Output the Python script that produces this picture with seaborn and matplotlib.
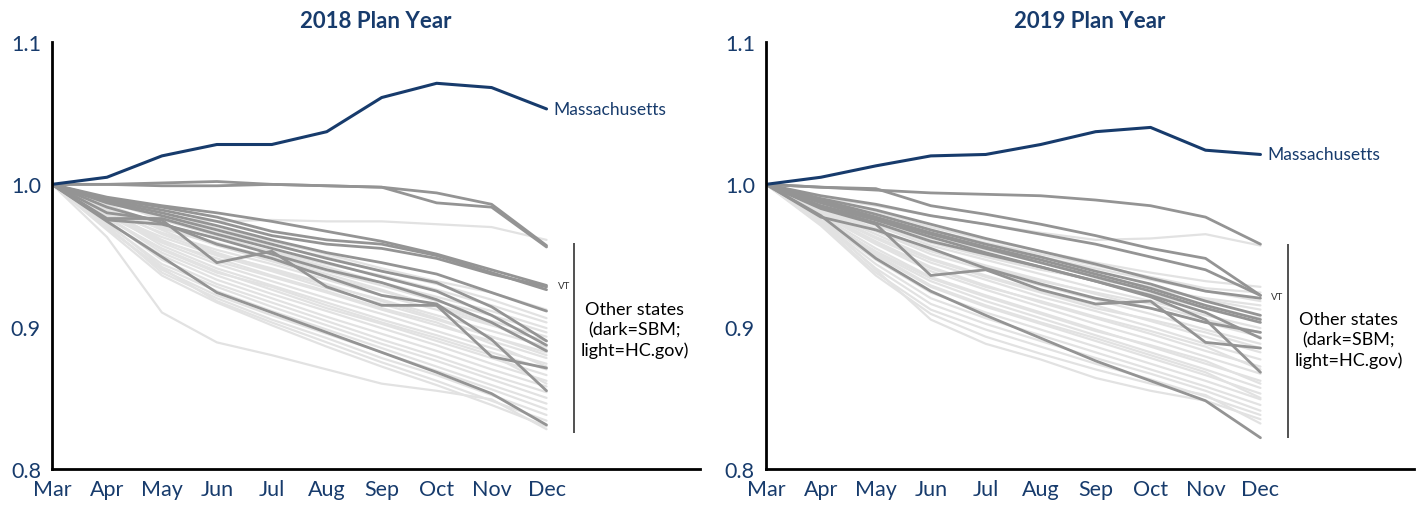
import pandas as pd
import seaborn as sns
import matplotlib.pyplot as plt

# ======================
# data (index relative to March)
# ======================
months = ['Mar', 'Apr', 'May', 'Jun', 'Jul', 'Aug', 'Sep', 'Oct', 'Nov', 'Dec']

ma_2018 = [1.0, 1.005, 1.020, 1.028, 1.028, 1.037, 1.061, 1.071, 1.068, 1.053]
ma_2019 = [1.0, 1.005, 1.013, 1.020, 1.021, 1.028, 1.037, 1.040, 1.024, 1.021]

# state-based marketplaces (dark)
sbm_2018 = [
    [1.0, 1.000, 1.001, 1.002, 1.000, 0.999, 0.998, 0.994, 0.986, 0.957],
    [1.0, 1.000, 0.999, 0.999, 1.000, 0.999, 0.998, 0.987, 0.984, 0.956],
    [1.0, 0.991, 0.985, 0.980, 0.974, 0.967, 0.960, 0.951, 0.940, 0.929],
    [1.0, 0.990, 0.984, 0.977, 0.967, 0.961, 0.958, 0.950, 0.938, 0.926],
    [1.0, 0.989, 0.982, 0.974, 0.964, 0.958, 0.955, 0.948, 0.937, 0.928],
    [1.0, 0.988, 0.980, 0.971, 0.961, 0.952, 0.945, 0.937, 0.924, 0.911],
    [1.0, 0.987, 0.978, 0.968, 0.958, 0.948, 0.939, 0.931, 0.914, 0.890],
    [1.0, 0.976, 0.976, 0.965, 0.955, 0.945, 0.935, 0.925, 0.908, 0.887],
    [1.0, 0.975, 0.972, 0.962, 0.951, 0.940, 0.931, 0.919, 0.903, 0.883],
    [1.0, 0.980, 0.975, 0.945, 0.953, 0.928, 0.915, 0.915, 0.879, 0.871],
    [1.0, 0.984, 0.973, 0.958, 0.948, 0.935, 0.922, 0.916, 0.891, 0.855],
    [1.0, 0.974, 0.949, 0.924, 0.910, 0.896, 0.882, 0.868, 0.853, 0.831],
]
sbm_2019 = [
    [1.0, 0.998, 0.996, 0.994, 0.993, 0.992, 0.989, 0.985, 0.977, 0.958],
    [1.0, 0.998, 0.997, 0.985, 0.979, 0.972, 0.964, 0.955, 0.948, 0.922],
    [1.0, 0.992, 0.986, 0.978, 0.972, 0.965, 0.958, 0.949, 0.940, 0.922],
    [1.0, 0.990, 0.982, 0.972, 0.962, 0.953, 0.944, 0.934, 0.925, 0.920],
    [1.0, 0.989, 0.979, 0.968, 0.958, 0.949, 0.939, 0.930, 0.918, 0.908],
    [1.0, 0.988, 0.977, 0.966, 0.956, 0.947, 0.937, 0.927, 0.915, 0.905],
    [1.0, 0.987, 0.976, 0.965, 0.955, 0.945, 0.935, 0.925, 0.913, 0.903],
    [1.0, 0.985, 0.975, 0.963, 0.952, 0.942, 0.932, 0.922, 0.910, 0.892],
    [1.0, 0.984, 0.973, 0.960, 0.951, 0.942, 0.932, 0.921, 0.905, 0.868],
    [1.0, 0.983, 0.972, 0.936, 0.940, 0.926, 0.916, 0.918, 0.889, 0.885],
    [1.0, 0.977, 0.968, 0.955, 0.941, 0.930, 0.920, 0.913, 0.903, 0.896],
    [1.0, 0.978, 0.948, 0.925, 0.908, 0.892, 0.876, 0.862, 0.848, 0.822],
]

# HealthCare.gov states (light)
hcgov_2018 = [
    [1.0, 0.988, 0.977, 0.974, 0.975, 0.974, 0.974, 0.972, 0.970, 0.961],
    [1.0, 0.963, 0.910, 0.889, 0.880, 0.870, 0.860, 0.855, 0.849, 0.828],
    [1.0, 0.990, 0.980, 0.969, 0.960, 0.951, 0.941, 0.932, 0.924, 0.912],
    [1.0, 0.987, 0.977, 0.966, 0.957, 0.949, 0.939, 0.930, 0.919, 0.906],
    [1.0, 0.985, 0.972, 0.962, 0.953, 0.944, 0.936, 0.926, 0.915, 0.903],
    [1.0, 0.989, 0.975, 0.964, 0.952, 0.942, 0.931, 0.921, 0.911, 0.899],
    [1.0, 0.983, 0.969, 0.958, 0.949, 0.939, 0.929, 0.918, 0.908, 0.896],
    [1.0, 0.986, 0.971, 0.957, 0.946, 0.935, 0.925, 0.915, 0.904, 0.893],
    [1.0, 0.981, 0.966, 0.954, 0.944, 0.933, 0.922, 0.912, 0.901, 0.890],
    [1.0, 0.984, 0.968, 0.952, 0.940, 0.929, 0.919, 0.908, 0.897, 0.886],
    [1.0, 0.979, 0.963, 0.950, 0.939, 0.927, 0.916, 0.905, 0.893, 0.882],
    [1.0, 0.982, 0.961, 0.946, 0.935, 0.924, 0.912, 0.901, 0.890, 0.878],
    [1.0, 0.978, 0.959, 0.944, 0.932, 0.920, 0.909, 0.897, 0.885, 0.874],
    [1.0, 0.980, 0.957, 0.941, 0.929, 0.917, 0.905, 0.894, 0.882, 0.870],
    [1.0, 0.976, 0.955, 0.939, 0.926, 0.913, 0.902, 0.890, 0.878, 0.866],
    [1.0, 0.977, 0.952, 0.936, 0.923, 0.911, 0.899, 0.887, 0.874, 0.862],
    [1.0, 0.974, 0.950, 0.933, 0.920, 0.907, 0.895, 0.883, 0.870, 0.858],
    [1.0, 0.975, 0.947, 0.930, 0.917, 0.904, 0.891, 0.879, 0.866, 0.854],
    [1.0, 0.972, 0.944, 0.928, 0.914, 0.901, 0.888, 0.876, 0.863, 0.850],
    [1.0, 0.973, 0.942, 0.925, 0.911, 0.898, 0.885, 0.872, 0.859, 0.846],
    [1.0, 0.970, 0.940, 0.922, 0.908, 0.895, 0.882, 0.869, 0.856, 0.842],
    [1.0, 0.971, 0.938, 0.920, 0.905, 0.892, 0.878, 0.866, 0.852, 0.838],
    [1.0, 0.969, 0.941, 0.918, 0.903, 0.889, 0.875, 0.862, 0.848, 0.834],
    [1.0, 0.968, 0.936, 0.917, 0.901, 0.886, 0.872, 0.859, 0.845, 0.830],
    [1.0, 0.983, 0.965, 0.951, 0.941, 0.930, 0.918, 0.906, 0.893, 0.880],
    [1.0, 0.980, 0.960, 0.948, 0.936, 0.925, 0.913, 0.903, 0.888, 0.872],
    [1.0, 0.977, 0.954, 0.938, 0.928, 0.915, 0.903, 0.892, 0.880, 0.860],
    [1.0, 0.985, 0.970, 0.959, 0.948, 0.937, 0.926, 0.914, 0.902, 0.884],
]
hcgov_2019 = [
    [1.0, 0.991, 0.985, 0.978, 0.972, 0.966, 0.961, 0.962, 0.965, 0.957],
    [1.0, 0.975, 0.940, 0.905, 0.888, 0.877, 0.864, 0.855, 0.848, 0.835],
    [1.0, 0.990, 0.981, 0.970, 0.961, 0.953, 0.945, 0.938, 0.932, 0.928],
    [1.0, 0.988, 0.978, 0.966, 0.957, 0.949, 0.941, 0.933, 0.925, 0.918],
    [1.0, 0.987, 0.976, 0.964, 0.954, 0.945, 0.936, 0.928, 0.919, 0.912],
    [1.0, 0.986, 0.974, 0.961, 0.950, 0.941, 0.932, 0.923, 0.913, 0.906],
    [1.0, 0.985, 0.971, 0.957, 0.947, 0.937, 0.927, 0.918, 0.908, 0.899],
    [1.0, 0.984, 0.969, 0.954, 0.943, 0.933, 0.923, 0.913, 0.903, 0.893],
    [1.0, 0.983, 0.967, 0.951, 0.940, 0.929, 0.919, 0.909, 0.898, 0.888],
    [1.0, 0.982, 0.965, 0.948, 0.936, 0.925, 0.915, 0.904, 0.893, 0.882],
    [1.0, 0.981, 0.962, 0.945, 0.933, 0.921, 0.911, 0.900, 0.888, 0.877],
    [1.0, 0.980, 0.960, 0.942, 0.929, 0.917, 0.906, 0.895, 0.883, 0.872],
    [1.0, 0.979, 0.958, 0.939, 0.926, 0.914, 0.902, 0.891, 0.879, 0.867],
    [1.0, 0.978, 0.955, 0.935, 0.922, 0.910, 0.898, 0.886, 0.874, 0.862],
    [1.0, 0.977, 0.952, 0.932, 0.918, 0.906, 0.894, 0.882, 0.870, 0.857],
    [1.0, 0.976, 0.950, 0.928, 0.914, 0.902, 0.890, 0.878, 0.866, 0.853],
    [1.0, 0.975, 0.947, 0.924, 0.910, 0.898, 0.886, 0.874, 0.862, 0.849],
    [1.0, 0.974, 0.944, 0.920, 0.906, 0.894, 0.882, 0.870, 0.858, 0.845],
    [1.0, 0.973, 0.941, 0.916, 0.902, 0.890, 0.878, 0.867, 0.855, 0.841],
    [1.0, 0.972, 0.938, 0.912, 0.898, 0.886, 0.874, 0.863, 0.851, 0.838],
    [1.0, 0.971, 0.936, 0.909, 0.893, 0.881, 0.870, 0.860, 0.852, 0.832],
    [1.0, 0.986, 0.972, 0.959, 0.949, 0.940, 0.933, 0.927, 0.920, 0.915],
    [1.0, 0.984, 0.968, 0.953, 0.942, 0.932, 0.924, 0.916, 0.905, 0.896],
    [1.0, 0.981, 0.963, 0.947, 0.935, 0.924, 0.913, 0.905, 0.896, 0.885],
    [1.0, 0.979, 0.959, 0.941, 0.928, 0.918, 0.907, 0.897, 0.886, 0.870],
    [1.0, 0.976, 0.953, 0.934, 0.921, 0.909, 0.897, 0.887, 0.876, 0.860],
    [1.0, 0.989, 0.979, 0.968, 0.959, 0.951, 0.943, 0.935, 0.927, 0.924],
    [1.0, 0.977, 0.951, 0.929, 0.915, 0.903, 0.892, 0.880, 0.868, 0.850],
]

NAVY = '#173b6c'
DARK = '#949494'
LIGHT = '#e2e2e2'


def to_long(lines):
    rows = []
    for i, vals in enumerate(lines):
        for j, v in enumerate(vals):
            rows.append({'state': i, 'm': j, 'v': v})
    return pd.DataFrame(rows)


# ======================
# style
# ======================
sns.set_style('white')
plt.rcParams['font.family'] = ['Lato', 'DejaVu Sans']

fig = plt.figure(figsize=(14.25, 5.06), dpi=100)
ax1 = fig.add_axes([0.0365, 0.071, 0.455, 0.844])
ax2 = fig.add_axes([0.5375, 0.071, 0.455, 0.844])


def draw(ax, title, ma, sbm, hc, vt_y, bracket, other_y):
    sns.lineplot(data=to_long(hc), x='m', y='v', units='state', estimator=None,
                 color=LIGHT, lw=1.6, ax=ax, legend=False)
    sns.lineplot(data=to_long(sbm), x='m', y='v', units='state', estimator=None,
                 color=DARK, lw=2.0, ax=ax, legend=False)
    sns.lineplot(x=list(range(len(months))), y=ma, color=NAVY, lw=2.2, ax=ax)

    ax.set_xlim(0, 11.8)
    ax.set_ylim(0.8, 1.1)
    ax.set_xticks(range(len(months)))
    ax.set_xticklabels(months)
    ax.set_yticks([0.8, 0.9, 1.0, 1.1])
    ax.set_yticklabels(['0.8', '0.9', '1.0', '1.1'])
    ax.set_xlabel('')
    ax.set_ylabel('')
    ax.tick_params(axis='both', direction='in', length=6, width=1.6, color='black',
                   labelcolor=NAVY, labelsize=15.5)
    ax.tick_params(axis='x', pad=7)
    ax.tick_params(axis='y', pad=8)
    sns.despine(ax=ax)
    for s in ['left', 'bottom']:
        ax.spines[s].set_linewidth(2)
        ax.spines[s].set_color('black')

    ax.set_title(title, fontsize=16, fontweight='bold', color=NAVY, pad=11)

    ax.text(9.12, ma[-1], 'Massachusetts', va='center', ha='left', color=NAVY, fontsize=12.5)
    ax.text(9.2, vt_y, 'VT', va='center', ha='left', fontsize=7, color='#333333')
    ax.vlines(9.5, bracket[0], bracket[1], color='#333333', lw=1.2)
    ax.text(10.6, other_y, 'Other states\n(dark=SBM;\nlight=HC.gov)', ha='center',
            va='center', fontsize=13, color='black', linespacing=1.3)


draw(ax1, '2018 Plan Year', ma_2018, sbm_2018, hcgov_2018, 0.929, (0.825, 0.959), 0.898)
draw(ax2, '2019 Plan Year', ma_2019, sbm_2019, hcgov_2019, 0.921, (0.822, 0.958), 0.891)

fig.savefig('out.png', dpi=100)
